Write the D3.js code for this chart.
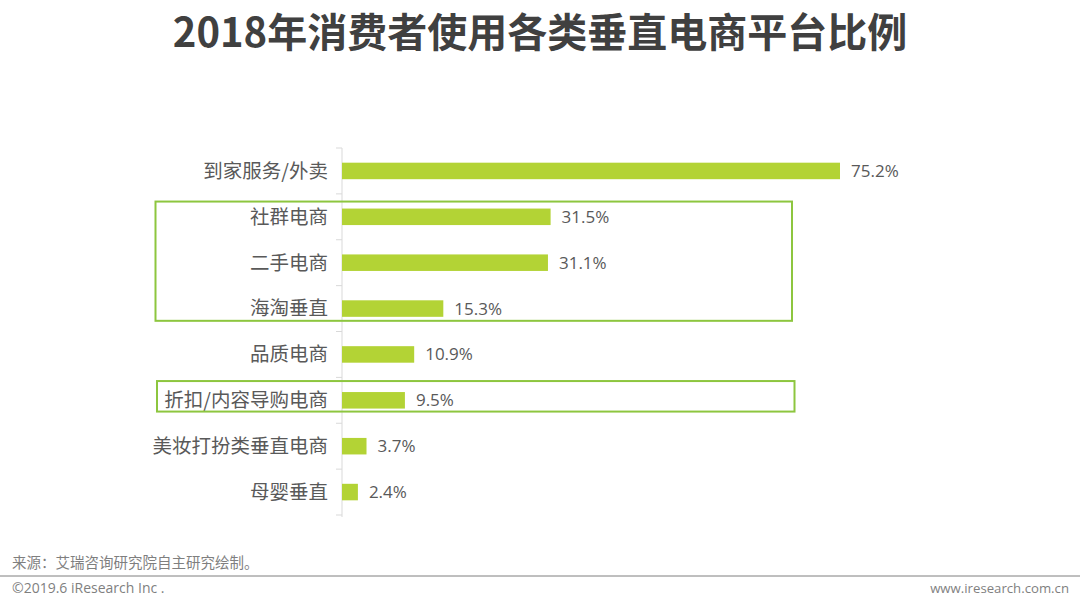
<!DOCTYPE html>
<meta charset="utf-8">
<head>
<style>
body { margin: 0; background: #fff; }
svg { font-family: "Noto Sans CJK SC", "Noto Sans", sans-serif; }
.cat { font-size: 19.5px; fill: #595959; }
.val { font-size: 17px; fill: #595959; font-family: "Open Sans", "Noto Sans", sans-serif; }
.title { font-size: 40px; font-weight: bold; fill: #404040; }
.foot { font-size: 14px; fill: #7f7f7f; }
</style>
</head>
<body>
<svg width="1080" height="603"></svg>
<script src="https://d3js.org/d3.v7.min.js"></script>
<script>

var categories = ["到家服务/外卖", "社群电商", "二手电商", "海淘垂直", "品质电商", "折扣/内容导购电商", "美妆打扮类垂直电商", "母婴垂直"];
var values = [75.2, 31.5, 31.1, 15.3, 10.9, 9.5, 3.7, 2.4];
// groups highlighted with a green frame (first, last category)
var frames = [["社群电商", "海淘垂直"], ["折扣/内容导购电商", "折扣/内容导购电商"]];

var svg = d3.select("svg"),
    width = +svg.attr("width"),
    height = +svg.attr("height");

var x0 = 342;

var x = d3.scaleLinear()
    .domain([0, 75.2])
    .range([x0, 840]);

var y = d3.scaleBand()
    .domain(categories)
    .range([148, 515])
    .paddingInner(0.64)
    .paddingOuter(0.32);

var yb = d3.scaleBand().domain(categories).range([148, 515]);

svg.append("text")
    .attr("class", "title")
    .attr("x", width / 2)
    .attr("y", 47)
    .attr("text-anchor", "middle")
    .text("2018年消费者使用各类垂直电商平台比例");

// axis line + ticks between categories
svg.append("line")
    .attr("x1", x0).attr("x2", x0)
    .attr("y1", 148).attr("y2", 517)
    .attr("stroke", "#d9d9d9").attr("stroke-width", 1);

svg.selectAll(".tick")
  .data(d3.range(categories.length + 1))
  .enter().append("line")
    .attr("x1", x0 - 6).attr("x2", x0)
    .attr("y1", function(i) { return 148 + i * yb.step(); })
    .attr("y2", function(i) { return 148 + i * yb.step(); })
    .attr("stroke", "#d9d9d9");

svg.selectAll(".bar")
  .data(values)
  .enter().append("rect")
    .attr("class", "bar")
    .attr("x", x0)
    .attr("y", function(d, i) { return y(categories[i]); })
    .attr("width", function(d) { return x(d) - x0; })
    .attr("height", y.bandwidth())
    .attr("fill", "#b3d335");

svg.selectAll(".val")
  .data(values)
  .enter().append("text")
    .attr("class", "val")
    .attr("x", function(d) { return x(d) + 11; })
    .attr("y", function(d, i) { return yb(categories[i]) + yb.bandwidth() / 2; })
    .attr("dy", "0.35em")
    .text(function(d) { return d.toFixed(1) + "%"; });

svg.selectAll(".cat")
  .data(categories)
  .enter().append("text")
    .attr("class", "cat")
    .attr("x", x0 - 14)
    .attr("y", function(d) { return yb(d) + yb.bandwidth() / 2; })
    .attr("dy", "0.35em")
    .attr("text-anchor", "end")
    .text(function(d) { return d; });

var padTop = [7, 11], padBot = [4, 3];
svg.selectAll(".frame")
  .data(frames)
  .enter().append("rect")
    .attr("class", "frame")
    .attr("x", function(d, i) { return i ? 157 : 155.5; })
    .attr("y", function(d, i) { return y(d[0]) - padTop[i]; })
    .attr("width", function(d, i) { return i ? 637.5 : 636.5; })
    .attr("height", function(d, i) { return y(d[1]) + y.bandwidth() - y(d[0]) + padTop[i] + padBot[i]; })
    .attr("fill", "none")
    .attr("stroke", "#8dc63f")
    .attr("stroke-width", 2);

// footer
svg.append("text")
    .attr("class", "foot")
    .attr("x", 12).attr("y", 568)
    .style("font-size", "14.5px")
    .text("来源：艾瑞咨询研究院自主研究绘制。");

svg.append("line")
    .attr("x1", 0).attr("x2", width)
    .attr("y1", 576).attr("y2", 576)
    .attr("stroke", "#7f7f7f").attr("stroke-width", 1);

svg.append("text")
    .attr("class", "foot")
    .attr("x", 12).attr("y", 593)
    .style("font-family", "'Open Sans', sans-serif")
    .text("©2019.6 iResearch Inc .");

svg.append("text")
    .attr("class", "foot")
    .attr("x", 1069).attr("y", 593)
    .attr("text-anchor", "end")
    .style("font-family", "'Open Sans', sans-serif")
    .style("font-size", "13.2px")
    .text("www.iresearch.com.cn");

</script>
</body>
</html>
